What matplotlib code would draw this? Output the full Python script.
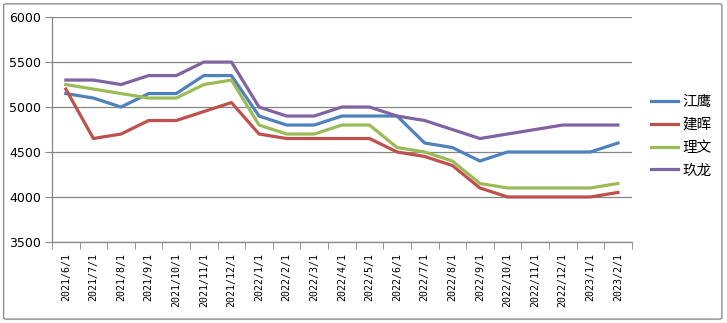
import matplotlib
matplotlib.use("Agg")
import matplotlib.pyplot as plt
from matplotlib.patches import FancyBboxPatch

plt.rcParams['font.family'] = ['DejaVu Sans', 'Noto Sans CJK SC']

# categories (monthly)
dates = ['2021/6/1', '2021/7/1', '2021/8/1', '2021/9/1', '2021/10/1', '2021/11/1',
         '2021/12/1', '2022/1/1', '2022/2/1', '2022/3/1', '2022/4/1', '2022/5/1',
         '2022/6/1', '2022/7/1', '2022/8/1', '2022/9/1', '2022/10/1', '2022/11/1',
         '2022/12/1', '2023/1/1', '2023/2/1']

jiangying = [5150, 5100, 5000, 5150, 5150, 5350, 5350, 4900, 4800, 4800, 4900,
             4900, 4900, 4600, 4550, 4400, 4500, 4500, 4500, 4500, 4600]
jianhui = [5200, 4650, 4700, 4850, 4850, 4950, 5050, 4700, 4650, 4650, 4650,
           4650, 4500, 4450, 4350, 4100, 4000, 4000, 4000, 4000, 4050]
liwen = [5250, 5200, 5150, 5100, 5100, 5250, 5300, 4800, 4700, 4700, 4800,
         4800, 4550, 4500, 4400, 4150, 4100, 4100, 4100, 4100, 4150]
jiulong = [5300, 5300, 5250, 5350, 5350, 5500, 5500, 5000, 4900, 4900, 5000,
           5000, 4900, 4850, 4750, 4650, 4700, 4750, 4800, 4800, 4800]

series = [('江鹰', jiangying, '#4F81BD'),
          ('建晖', jianhui, '#C0504D'),
          ('理文', liwen, '#9BBB59'),
          ('玖龙', jiulong, '#8064A2')]

fig = plt.figure(figsize=(7.27, 3.23), dpi=100)
fig.patch.set_facecolor('white')

# chart border
border = FancyBboxPatch((0.005, 0.012), 0.988, 0.976, boxstyle='round,pad=0,rounding_size=0.004',
                        transform=fig.transFigure, facecolor='white', edgecolor='#8c8c8c',
                        linewidth=1.0, zorder=0)
fig.patches.append(border)

ax = fig.add_axes([0.0715, 0.251, 0.7975, 0.696])
ax.set_zorder(2)
ax.set_facecolor('none')

x = list(range(len(dates)))
for name, vals, color in series:
    ax.plot(x, vals, color=color, linewidth=2.3, label=name, solid_joinstyle='round')

ax.set_ylim(3500, 6000)
ax.set_xlim(-0.5, len(dates) - 0.5)
ax.set_yticks(range(3500, 6001, 500))
ax.grid(axis='y', color='#868686', linewidth=0.9)
ax.set_axisbelow(True)

ax.set_xticks(x)
ax.set_xticklabels(dates, rotation=90, fontsize=7.2, family='DejaVu Sans Mono')
ax.set_xticks([i - 0.5 for i in range(len(dates) + 1)], minor=True)
ax.tick_params(axis='x', which='major', length=0, pad=8)
ax.tick_params(axis='x', which='minor', length=5, color='#868686', direction='out')
ax.tick_params(axis='y', length=5, color='#868686', labelsize=9, pad=3)

for s in ['top', 'right']:
    ax.spines[s].set_visible(False)
for s in ['left', 'bottom']:
    ax.spines[s].set_color('#868686')
    ax.spines[s].set_linewidth(0.9)

leg = ax.legend(loc='center left', bbox_to_anchor=(1.01, 0.47), frameon=False,
                prop={'family': ['Noto Sans CJK SC', 'DejaVu Sans'], 'size': 10.5},
                handlelength=1.9, labelspacing=0.6, handletextpad=0.3)

fig.savefig('out.png', dpi=100, facecolor='white')
